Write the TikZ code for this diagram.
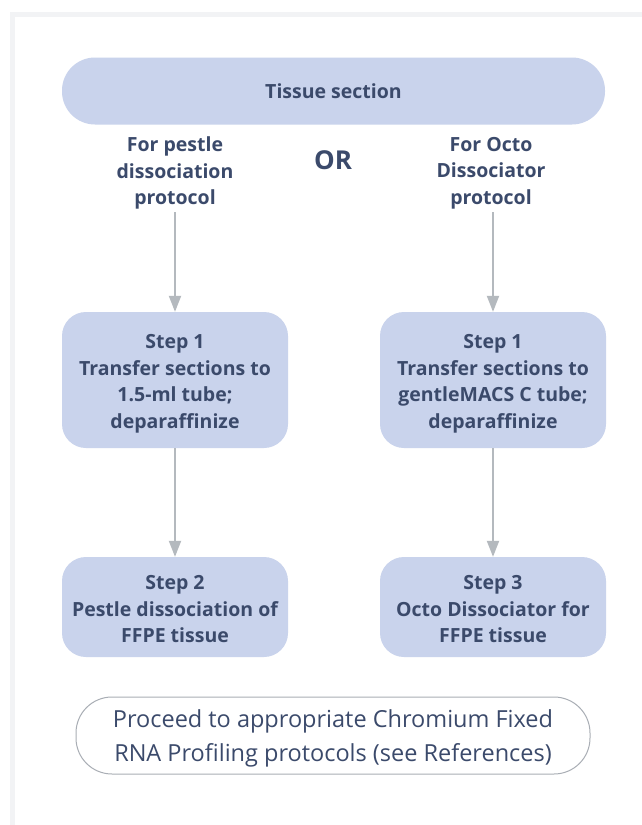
\documentclass[tikz,border=0pt]{standalone}
\usepackage{fontspec}
\setmainfont{Open Sans}
\usetikzlibrary{arrows.meta}
\definecolor{boxfill}{HTML}{C9D3EC}
\definecolor{txt}{HTML}{3B4A6B}
\definecolor{arr}{HTML}{B4B9BE}
\definecolor{frameg}{HTML}{F2F3F5}
\definecolor{outl}{HTML}{A9AEB5}
\newcommand{\lift}[1]{\rule{0pt}{#1}}
\tikzset{
  stepbox/.style={fill=boxfill, rounded corners=24pt, minimum width=226pt, align=center, text=txt, font=\fontsize{19.5}{26.5}\selectfont\bfseries, inner sep=0pt},
  lbl/.style={align=center, text=txt, font=\fontsize{19.5}{26.5}\selectfont\bfseries, inner sep=3pt},
  flow/.style={draw=arr, line width=2pt, -{Triangle[width=12pt,length=16pt]}}
}
\begin{document}
\begin{tikzpicture}[x=1pt,y=-1pt]
\useasboundingbox (0,0) rectangle (642,825);
\fill[white] (0,0) rectangle (642,825);
\fill[frameg] (10,12) rectangle (642,17);
\fill[frameg] (10,12) rectangle (15,825);
\node[stepbox, rounded corners=33pt, minimum width=543pt, minimum height=67pt] (tis) at (333.5,91) {\lift{16pt}Tissue section};
\node[lbl] (lp) at (175,173) {For pestle\\dissociation\\protocol};
\node[lbl] (lo) at (491,173) {For Octo\\Dissociator\\protocol};
\node[text=txt, font=\fontsize{26}{30}\selectfont\bfseries] (or) at (333,160) {OR};
\node[stepbox, minimum height=136pt] (s1l) at (175,380) {\lift{21.5pt}Step 1\\Transfer sections to\\1.5-ml tube;\\deparaffinize};
\node[stepbox, minimum height=136pt] (s1r) at (493,380) {\lift{21.5pt}Step 1\\Transfer sections to\\gentleMACS C tube;\\deparaffinize};
\node[stepbox, minimum height=100pt] (s2l) at (175,607) {\lift{19pt}Step 2\\Pestle dissociation of\\FFPE tissue};
\node[stepbox, minimum height=100pt] (s3r) at (493,607) {\lift{19pt}Step 3\\Octo Dissociator for\\FFPE tissue};
\node[draw=outl, line width=1pt, fill=white, rounded corners=36pt, minimum width=514pt, minimum height=77pt, align=center, text=txt, font=\fontsize{23.5}{34.5}\selectfont] (fin) at (333,735.5) {\lift{24pt}Proceed to appropriate Chromium Fixed\\RNA Profiling protocols (see References)};
\draw[flow] (lp.south -| s1l.north) -- (s1l.north);
\draw[flow] (lo.south -| s1r.north) -- (s1r.north);
\draw[flow] (s1l) -- (s2l);
\draw[flow] (s1r) -- (s3r);
\end{tikzpicture}
\end{document}
